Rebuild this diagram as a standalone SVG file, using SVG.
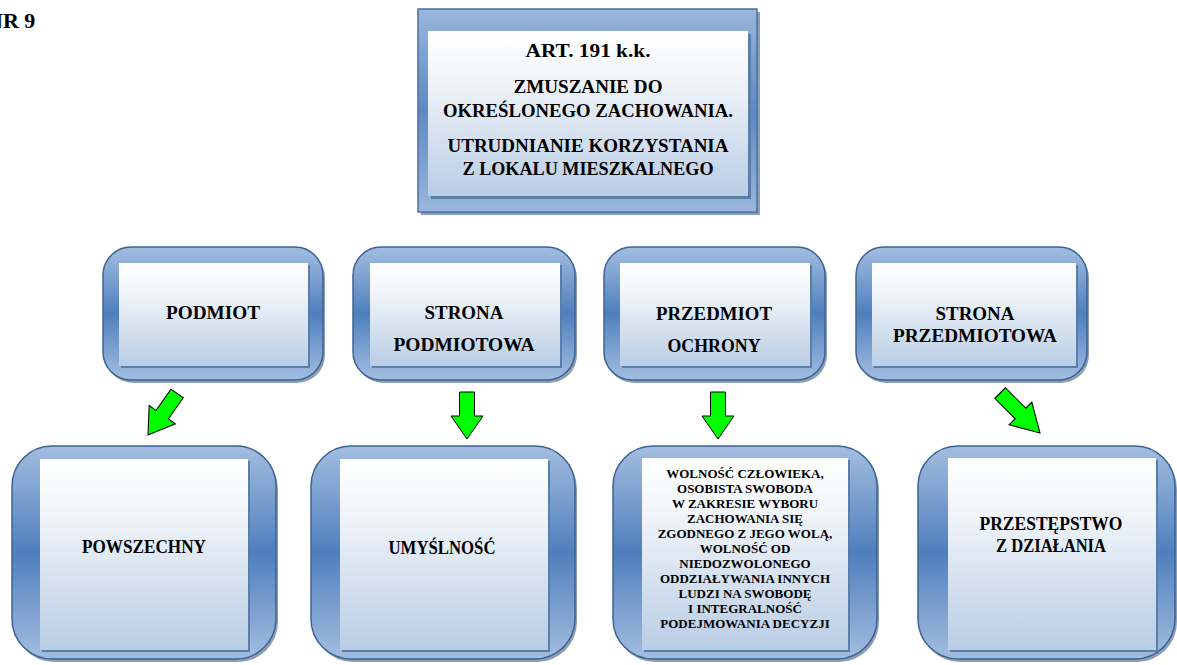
<svg xmlns="http://www.w3.org/2000/svg" width="1177" height="665" viewBox="0 0 1177 665">
<defs>
<linearGradient id="frame" x1="0" y1="0" x2="0" y2="1">
<stop offset="0" stop-color="#a3bde0"/>
<stop offset="0.5" stop-color="#4f7fbd"/>
<stop offset="1" stop-color="#a3bde0"/>
</linearGradient>
<linearGradient id="frameTop" x1="0" y1="0" x2="0" y2="1">
<stop offset="0" stop-color="#9ab6db"/>
<stop offset="0.5" stop-color="#5d89c2"/>
<stop offset="1" stop-color="#9ab6db"/>
</linearGradient>
<linearGradient id="panel" x1="0" y1="0" x2="0" y2="1">
<stop offset="0" stop-color="#ffffff"/>
<stop offset="0.3" stop-color="#f0f4f9"/>
<stop offset="1" stop-color="#b9cde5"/>
</linearGradient>
<path id="arr" d="M0,0 L-16,-23 L-7.5,-23 L-7.5,-47 L7.5,-47 L7.5,-23 L16,-23 Z"/>
</defs>
<style>
.t{font-family:"Liberation Serif","DejaVu Serif",serif;font-weight:bold;fill:#000;text-anchor:middle}
.big{font-size:18.5px}
.sm{font-size:13px}
.fr{fill:url(#frame);stroke:#3d6394;stroke-width:1.5}
.frs{fill:#2f4d75;opacity:0.55}
.pn{fill:url(#panel)}
.pns{fill:#5b7ea9}
.arrow{fill:#00ff00;stroke:#000;stroke-width:1;stroke-linejoin:miter}
</style>

<text class="t" x="-13" y="28" style="font-size:22px;text-anchor:start">NR 9</text>

<g id="top">
<rect class="frs" x="421" y="12" width="339" height="203"/>
<rect x="418" y="9" width="339" height="203" fill="url(#frameTop)" stroke="#4a70a3" stroke-width="1.5"/>
<rect class="pns" x="431" y="34" width="320" height="165"/>
<rect class="pn" x="428" y="31" width="320" height="165"/>
<text class="t big" x="588" y="57" textLength="125" lengthAdjust="spacingAndGlyphs">ART. 191 k.k.</text>
<text class="t big" x="588" y="93" textLength="149" lengthAdjust="spacingAndGlyphs">ZMUSZANIE DO</text>
<text class="t big" x="588" y="117" textLength="290" lengthAdjust="spacingAndGlyphs">OKREŚLONEGO ZACHOWANIA.</text>
<text class="t big" x="588" y="152" textLength="281" lengthAdjust="spacingAndGlyphs">UTRUDNIANIE KORZYSTANIA</text>
<text class="t big" x="588" y="175" textLength="251" lengthAdjust="spacingAndGlyphs">Z LOKALU MIESZKALNEGO</text>
</g>

<g id="podmiot">
<rect class="frs" x="105" y="250" width="220" height="133" rx="28"/>
<rect class="fr" x="103" y="247" width="220" height="133" rx="28"/>
<rect class="pns" x="121" y="265" width="189" height="103"/>
<rect class="pn" x="119" y="263" width="189" height="103"/>
<text class="t big" x="213" y="319" textLength="94" lengthAdjust="spacingAndGlyphs">PODMIOT</text>
</g>

<g id="strona-podmiotowa">
<rect class="frs" x="355" y="250" width="222" height="133" rx="28"/>
<rect class="fr" x="353" y="247" width="222" height="133" rx="28"/>
<rect class="pns" x="372" y="265" width="190" height="103"/>
<rect class="pn" x="370" y="263" width="190" height="103"/>
<text class="t big" x="464" y="319" textLength="79" lengthAdjust="spacingAndGlyphs">STRONA</text>
<text class="t big" x="464" y="351" textLength="141" lengthAdjust="spacingAndGlyphs">PODMIOTOWA</text>
</g>

<g id="przedmiot-ochrony">
<rect class="frs" x="606" y="250" width="221" height="133" rx="28"/>
<rect class="fr" x="604" y="247" width="221" height="133" rx="28"/>
<rect class="pns" x="622" y="265" width="190" height="103"/>
<rect class="pn" x="620" y="263" width="190" height="103"/>
<text class="t big" x="714" y="320" textLength="116" lengthAdjust="spacingAndGlyphs">PRZEDMIOT</text>
<text class="t big" x="714" y="352" textLength="93" lengthAdjust="spacingAndGlyphs">OCHRONY</text>
</g>

<g id="strona-przedmiotowa">
<rect class="frs" x="858" y="250" width="231" height="133" rx="28"/>
<rect class="fr" x="856" y="247" width="231" height="133" rx="28"/>
<rect class="pns" x="874" y="265" width="204" height="103"/>
<rect class="pn" x="872" y="263" width="204" height="103"/>
<text class="t big" x="975" y="320" textLength="79" lengthAdjust="spacingAndGlyphs">STRONA</text>
<text class="t big" x="975" y="342" textLength="164" lengthAdjust="spacingAndGlyphs">PRZEDMIOTOWA</text>
</g>

<g id="powszechny">
<rect class="frs" x="14" y="449" width="264" height="213" rx="40"/>
<rect class="fr" x="12" y="446" width="264" height="213" rx="40"/>
<rect class="pns" x="42" y="461" width="208" height="191"/>
<rect class="pn" x="40" y="459" width="208" height="191"/>
<text class="t big" x="144" y="553" textLength="124" lengthAdjust="spacingAndGlyphs">POWSZECHNY</text>
</g>

<g id="umyslnosc">
<rect class="frs" x="313" y="449" width="264" height="213" rx="40"/>
<rect class="fr" x="311" y="446" width="264" height="213" rx="40"/>
<rect class="pns" x="342" y="461" width="208" height="191"/>
<rect class="pn" x="340" y="459" width="208" height="191"/>
<text class="t big" x="442" y="554" textLength="107" lengthAdjust="spacingAndGlyphs">UMYŚLNOŚĆ</text>
</g>

<g id="wolnosc">
<rect class="frs" x="615" y="449" width="264" height="213" rx="40"/>
<rect class="fr" x="613" y="446" width="264" height="213" rx="40"/>
<rect class="pns" x="644" y="460" width="206" height="192"/>
<rect class="pn" x="642" y="458" width="206" height="192"/>
<text class="t sm" x="745" y="478">WOLNOŚĆ CZŁOWIEKA,</text>
<text class="t sm" x="745" y="493">OSOBISTA SWOBODA</text>
<text class="t sm" x="745" y="508">W ZAKRESIE WYBORU</text>
<text class="t sm" x="745" y="523">ZACHOWANIA SIĘ</text>
<text class="t sm" x="745" y="538">ZGODNEGO Z JEGO WOLĄ,</text>
<text class="t sm" x="745" y="553">WOLNOŚĆ OD</text>
<text class="t sm" x="745" y="568">NIEDOZWOLONEGO</text>
<text class="t sm" x="745" y="583">ODDZIAŁYWANIA INNYCH</text>
<text class="t sm" x="745" y="598">LUDZI NA SWOBODĘ</text>
<text class="t sm" x="745" y="613">I INTEGRALNOŚĆ</text>
<text class="t sm" x="745" y="628">PODEJMOWANIA DECYZJI</text>
</g>

<g id="przestepstwo">
<rect class="frs" x="920" y="449" width="257" height="213" rx="40"/>
<rect class="fr" x="918" y="446" width="257" height="213" rx="40"/>
<rect class="pns" x="950" y="460" width="208" height="192"/>
<rect class="pn" x="948" y="458" width="208" height="192"/>
<text class="t big" x="1051" y="530" textLength="143" lengthAdjust="spacingAndGlyphs">PRZESTĘPSTWO</text>
<text class="t big" x="1051" y="552" textLength="110" lengthAdjust="spacingAndGlyphs">Z DZIAŁANIA</text>
</g>

<g id="connectors">
<use href="#arr" class="arrow" transform="translate(148,435) rotate(35) scale(1,1.08)"/>
<use href="#arr" class="arrow" transform="translate(467,439)"/>
<use href="#arr" class="arrow" transform="translate(718,439)"/>
<use href="#arr" class="arrow" transform="translate(1040,433) rotate(-45) scale(1,1.2)"/>
</g>
</svg>
